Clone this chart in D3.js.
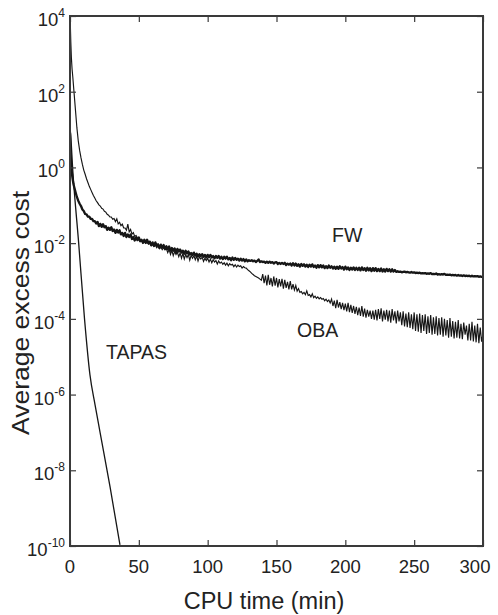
<!DOCTYPE html>
<html><head><meta charset="utf-8">
<script src="https://cdn.jsdelivr.net/npm/d3@7"></script>
<style>body{margin:0;background:#fff}svg{display:block}</style>
</head><body><svg id="c" width="498" height="615"></svg>
<script>
const xTickValues=[0,50,100,150,200,250,300];
const yTickExponents=[4,2,0,-2,-4,-6,-8,-10];

const tapasTime=[0,0.4,2,6.3,10.5,14.5,18.2,21.8,29.1,36.3];
const tapasLog10=[1.05,0.9,-0.07,-2.0,-3.98,-5.48,-6.27,-6.99,-8.44,-9.97];

const obaEarlyTime=[0,0.3,0.6,1,1.5,2,3,4,5,6,7,8,9,10,11,12,13,14,15,16,17,18,19];
const obaEarlyLog10=[4.0,3.7,3.3,2.9,2.6,2.4,1.95,1.5,1.05,0.7,0.45,0.25,0.08,-0.07,-0.18,-0.3,-0.4,-0.5,-0.58,-0.66,-0.74,-0.81,-0.88];
const obaLog10=[
-0.93,-0.99,-1.02,-1.08,-1.10,-1.16,-1.18,-1.24,-1.26,-1.31,
-1.31,-1.37,-1.35,-1.43,-1.36,-1.49,-1.45,-1.54,-1.50,-1.60,
-1.60,-1.66,-1.50,-1.70,-1.64,-1.76,-1.72,-1.82,-1.80,-1.86,
-1.90,-1.95,-1.93,-2.00,-1.96,-2.01,-1.98,-2.03,-2.01,-2.06,
-2.03,-2.09,-2.05,-2.12,-2.08,-2.14,-2.10,-2.17,-2.12,-2.18,
-2.15,-2.25,-2.16,-2.30,-2.19,-2.33,-2.22,-2.30,-2.24,-2.36,
-2.26,-2.40,-2.27,-2.42,-2.30,-2.38,-2.30,-2.45,-2.32,-2.40,
-2.33,-2.44,-2.34,-2.47,-2.36,-2.42,-2.37,-2.48,-2.40,-2.46,
-2.40,-2.50,-2.42,-2.52,-2.44,-2.50,-2.46,-2.55,-2.47,-2.53,
-2.50,-2.56,-2.52,-2.58,-2.53,-2.60,-2.54,-2.58,-2.56,-2.62,
-2.57,-2.63,-2.58,-2.62,-2.60,-2.66,-2.62,-2.65,-2.66,-2.70,
-2.73,-2.76,-2.80,-2.83,-2.86,-2.88,-2.90,-2.92,-2.95,-2.98,
-2.82,-3.06,-2.86,-3.12,-2.84,-3.10,-2.92,-3.14,-2.88,-3.12,
-2.92,-3.17,-2.95,-3.14,-2.94,-3.20,-2.97,-3.18,-3.02,-3.22,
-3.00,-3.22,-3.08,-3.24,-3.12,-3.27,-3.20,-3.30,-3.28,-3.34,
-3.30,-3.36,-3.26,-3.38,-3.36,-3.42,-3.34,-3.44,-3.40,-3.46,
-3.42,-3.47,-3.44,-3.48,-3.46,-3.52,-3.48,-3.54,-3.50,-3.58,
-3.48,-3.66,-3.52,-3.72,-3.50,-3.70,-3.56,-3.74,-3.58,-3.77,
-3.60,-3.80,-3.58,-3.82,-3.63,-3.84,-3.66,-3.87,-3.68,-3.90,
-3.70,-3.92,-3.66,-3.94,-3.73,-3.97,-3.76,-3.94,-3.78,-4.00,
-3.78,-4.02,-3.76,-4.04,-3.74,-4.00,-3.72,-4.07,-3.78,-4.02,
-3.76,-4.07,-3.78,-4.10,-3.74,-4.04,-3.80,-4.12,-3.78,-4.07,
-3.83,-4.17,-3.80,-4.20,-3.86,-4.22,-3.83,-4.24,-3.88,-4.27,
-3.83,-4.32,-3.88,-4.34,-3.86,-4.37,-3.90,-4.32,-3.88,-4.40,
-3.93,-4.37,-3.90,-4.42,-3.96,-4.40,-3.93,-4.44,-3.98,-4.42,
-3.96,-4.47,-4.00,-4.44,-4.03,-4.50,-3.98,-4.47,-4.06,-4.52,
-4.08,-4.50,-4.03,-4.52,-4.13,-4.54,-4.10,-4.42,-4.18,-4.57,
-4.13,-4.57,-4.08,-4.60,-4.18,-4.62,-4.13,-4.64,-4.23,-4.60,-4.40];

const fwEarlyTime=[0,0.3,0.6,1,1.5,2,2.5,3,4,5,6,7,8,9,10,11,12,13,14,15,16,17,18,19];
const fwEarlyLog10=[0.9,0.55,0.25,0.0,-0.2,-0.33,-0.44,-0.51,-0.65,-0.78,-0.88,-0.96,-1.02,-1.11,-1.15,-1.23,-1.24,-1.30,-1.30,-1.36,-1.36,-1.42,-1.42,-1.48];
const fwLog10=[
-1.44,-1.55,-1.49,-1.57,-1.50,-1.58,-1.55,-1.65,-1.59,-1.65,
-1.58,-1.68,-1.64,-1.73,-1.65,-1.72,-1.66,-1.77,-1.73,-1.81,
-1.73,-1.84,-1.77,-1.84,-1.77,-1.89,-1.84,-1.93,-1.85,-1.92,
-1.85,-1.95,-1.91,-1.99,-1.91,-1.99,-1.91,-2.00,-1.96,-2.06,
-1.98,-2.07,-1.98,-2.07,-2.03,-2.13,-2.04,-2.11,-2.05,-2.15,
-2.08,-2.16,-2.09,-2.20,-2.13,-2.20,-2.14,-2.24,-2.15,-2.22,
-2.17,-2.25,-2.20,-2.28,-2.20,-2.27,-2.22,-2.30,-2.26,-2.31,
-2.25,-2.33,-2.28,-2.35,-2.29,-2.34,-2.29,-2.36,-2.31,-2.38,
-2.31,-2.37,-2.31,-2.38,-2.34,-2.40,-2.34,-2.39,-2.34,-2.41,
-2.36,-2.42,-2.36,-2.41,-2.36,-2.43,-2.39,-2.45,-2.38,-2.44,
-2.39,-2.44,-2.41,-2.46,-2.41,-2.46,-2.42,-2.48,-2.43,-2.48,
-2.45,-2.47,-2.45,-2.48,-2.46,-2.50,-2.47,-2.43,-2.50,-2.48,
-2.50,-2.49,-2.52,-2.49,-2.52,-2.49,-2.52,-2.50,-2.54,-2.51,
-2.50,-2.55,-2.52,-2.55,-2.52,-2.55,-2.52,-2.58,-2.54,-2.57,
-2.54,-2.59,-2.53,-2.59,-2.54,-2.60,-2.56,-2.62,-2.55,-2.60,
-2.56,-2.62,-2.57,-2.63,-2.57,-2.62,-2.56,-2.63,-2.59,-2.65,
-2.58,-2.64,-2.58,-2.64,-2.59,-2.66,-2.61,-2.66,-2.59,-2.65,
-2.61,-2.67,-2.62,-2.68,-2.62,-2.68,-2.61,-2.67,-2.63,-2.70,
-2.62,-2.69,-2.64,-2.71,-2.65,-2.70,-2.64,-2.71,-2.65,-2.71,
-2.65,-2.72,-2.64,-2.71,-2.66,-2.73,-2.65,-2.72,-2.66,-2.74,
-2.66,-2.73,-2.66,-2.74,-2.68,-2.74,-2.67,-2.75,-2.69,-2.75,
-2.68,-2.74,-2.69,-2.75,-2.69,-2.75,-2.71,-2.76,-2.74,-2.76,
-2.75,-2.77,-2.76,-2.75,-2.77,-2.76,-2.77,-2.78,-2.76,-2.78,
-2.77,-2.79,-2.78,-2.79,-2.78,-2.80,-2.79,-2.80,-2.79,-2.81,
-2.80,-2.81,-2.79,-2.82,-2.81,-2.82,-2.80,-2.83,-2.82,-2.83,
-2.82,-2.83,-2.81,-2.84,-2.83,-2.84,-2.83,-2.85,-2.84,-2.85,
-2.84,-2.86,-2.84,-2.86,-2.85,-2.87,-2.85,-2.87,-2.86,-2.87,
-2.86,-2.88,-2.86,-2.88,-2.87,-2.88,-2.87,-2.89,-2.88,-2.89,-2.89];

const minuteGrid=d3.range(20,301);
const seriesNames=["FW","OBA","TAPAS"];

const M={left:70,right:483,top:16,bottom:546};
const x=d3.scaleLinear().domain([0,300]).range([M.left,M.right]);
const y=d3.scaleLog().domain([1e-10,1e4]).range([M.bottom,M.top]);
const FONT="'Liberation Sans', Arial, Helvetica, sans-serif";
const INK="#161616";
const svg=d3.select("#c");

const toPts=(ts,ls)=>ts.map((t,i)=>[t,Math.pow(10,ls[i])]);
const tapas=toPts(tapasTime,tapasLog10);
const oba=toPts(obaEarlyTime.concat(minuteGrid),obaEarlyLog10.concat(obaLog10));
const fw=toPts(fwEarlyTime.concat(minuteGrid),fwEarlyLog10.concat(fwLog10));

svg.append("defs").append("clipPath").attr("id","clip").append("rect")
  .attr("x",M.left).attr("y",M.top).attr("width",M.right-M.left).attr("height",M.bottom-M.top);

const lineLin=d3.line().x(d=>x(d[0])).y(d=>y(d[1]));
const lineSmooth=d3.line().x(d=>x(d[0])).y(d=>y(d[1])).curve(d3.curveMonotoneX);
const g=svg.append("g").attr("clip-path","url(#clip)");
g.append("path").datum(tapas).attr("d",lineSmooth).attr("fill","none").attr("stroke",INK).attr("stroke-width",1.3);
g.append("path").datum(fw).attr("d",lineLin).attr("fill","none").attr("stroke",INK).attr("stroke-width",2.3).attr("stroke-linejoin","round");
g.append("path").datum(oba).attr("d",lineLin).attr("fill","none").attr("stroke",INK).attr("stroke-width",1.15);

// axes (box with inward ticks on all sides)
const AX="#3a3a3a";
const tickLen=6;
const yTicks=yTickExponents.map(e=>Math.pow(10,e));
const styleAxis=(sel)=>{sel.select(".domain").remove();sel.selectAll("line").attr("stroke",AX).attr("stroke-width",1.2);sel.selectAll("text").remove();};
svg.append("g").attr("transform",`translate(0,${M.bottom})`).call(d3.axisBottom(x).tickValues(xTickValues).tickSizeInner(-tickLen).tickSizeOuter(0)).call(styleAxis);
svg.append("g").attr("transform",`translate(0,${M.top})`).call(d3.axisTop(x).tickValues(xTickValues).tickSizeInner(-tickLen).tickSizeOuter(0)).call(styleAxis);
svg.append("g").attr("transform",`translate(${M.left},0)`).call(d3.axisLeft(y).tickValues(yTicks).tickSizeInner(-tickLen).tickSizeOuter(0)).call(styleAxis);
svg.append("g").attr("transform",`translate(${M.right},0)`).call(d3.axisRight(y).tickValues(yTicks).tickSizeInner(-tickLen).tickSizeOuter(0)).call(styleAxis);
svg.append("rect").attr("x",M.left).attr("y",M.top).attr("width",M.right-M.left).attr("height",M.bottom-M.top)
  .attr("fill","none").attr("stroke",AX).attr("stroke-width",2);

// x tick labels
svg.append("g").selectAll("text").data(xTickValues).join("text")
  .attr("x",d=>d===300?x(d)-8:x(d)).attr("y",M.bottom+27)
  .attr("text-anchor","middle").attr("font-family",FONT).attr("font-size",18.5).attr("fill","#222")
  .text(d=>d);

// y tick labels 10^e
const yl=svg.append("g").selectAll("text").data(yTickExponents).join("text")
  .attr("x",65).attr("y",e=>y(Math.pow(10,e))+10)
  .attr("text-anchor","end").attr("font-family",FONT).attr("font-size",18.5).attr("fill","#222");
yl.append("tspan").text("10");
yl.append("tspan").attr("dy",-9).attr("font-size",12).text(e=>e);

// axis titles
svg.append("text").attr("x",264).attr("y",609).attr("text-anchor","middle")
  .attr("font-family",FONT).attr("font-size",23.5).attr("fill","#222").text("CPU time (min)");
svg.append("text").attr("transform","translate(29,313) rotate(-90)").attr("text-anchor","middle")
  .attr("font-family",FONT).attr("font-size",23.5).attr("textLength",244).attr("lengthAdjust","spacingAndGlyphs")
  .attr("fill","#222").text("Average excess cost");

// series labels
const labelPos={FW:[332,242],OBA:[297,337],TAPAS:[106,359]};
svg.append("g").selectAll("text").data(seriesNames).join("text")
  .attr("x",d=>labelPos[d][0]).attr("y",d=>labelPos[d][1])
  .attr("font-family",FONT).attr("font-size",19.5).attr("fill","#222").text(d=>d);
</script></body></html>
